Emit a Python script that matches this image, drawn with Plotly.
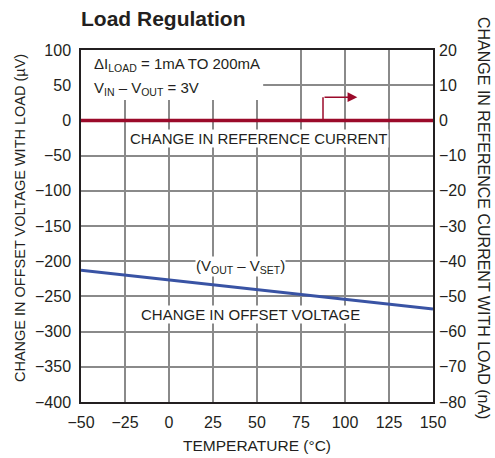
import plotly.graph_objects as go

# Data
temps = [-50, 150]
offset_uv = [-213, -268]          # change in offset voltage (µV), left axis
ref_na = [0, 0]                   # change in reference current (nA), right axis
x_ticks = [-50, -25, 0, 25, 50, 75, 100, 125, 150]
y_ticks = [100, 50, 0, -50, -100, -150, -200, -250, -300, -350, -400]
y2_ticks = [20, 10, 0, -10, -20, -30, -40, -50, -60, -70, -80]

def lab(v):
    return str(v).replace("-", "\u2212")

FONT = "Liberation Sans, Arial, sans-serif"
TXT = "#231f20"
RED = "#9b0a2a"
BLUE = "#3953a4"
GRID = "#8a8a8a"
FS = 15
TFS = 16

tickf = dict(size=TFS, family=FONT, color=TXT)
fig = go.Figure()
fig.add_trace(go.Scatter(x=temps, y=offset_uv, mode="lines",
                         line=dict(color=BLUE, width=3), yaxis="y", showlegend=False))
fig.add_trace(go.Scatter(x=temps, y=ref_na, mode="lines",
                         line=dict(color=RED, width=3.5), yaxis="y2", showlegend=False))

fig.update_layout(
    width=495, height=458,
    margin=dict(l=81, r=62, t=50, b=56),
    paper_bgcolor="white", plot_bgcolor="white",
    font=dict(family=FONT, color=TXT, size=FS),
    xaxis=dict(range=[-50, 150], tickvals=x_ticks, ticktext=[lab(v) for v in x_ticks],
               showgrid=True, gridcolor=GRID, gridwidth=1.5, zeroline=False,
               showline=True, linecolor="#231f20", linewidth=1.5, mirror=True,
               ticks="", tickfont=tickf, ticklabelstandoff=5),
    yaxis=dict(range=[-400, 100], tickvals=y_ticks, ticktext=[lab(v) for v in y_ticks],
               showgrid=True, gridcolor=GRID, gridwidth=1.5, zeroline=False,
               showline=True, linecolor="#231f20", linewidth=1.5, mirror=True,
               ticks="", tickfont=tickf, ticklabelstandoff=5),
    yaxis2=dict(range=[-80, 20], tickvals=y2_ticks, ticktext=[lab(v) for v in y2_ticks],
                overlaying="y", side="right", showgrid=False, zeroline=False,
                ticks="", tickfont=tickf, ticklabelstandoff=5),
)

# white box behind the conditions text (between grid and traces)
fig.add_shape(type="rect", xref="x", yref="y", x0=-50, x1=53.5, y0=29, y1=100,
              fillcolor="white", line=dict(width=0), layer="between")

# arrow pointing to right axis
fig.add_shape(type="line", xref="x", yref="y", x0=87.5, x1=87.5, y0=0, y1=33,
              line=dict(color=RED, width=1.5))
fig.add_annotation(x=107, y=33, ax=87.5, ay=33, xref="x", yref="y", axref="x", ayref="y",
                   showarrow=True, arrowhead=2, arrowsize=1.3, arrowwidth=1.5,
                   arrowcolor=RED, text="")

tf = dict(size=FS, family=FONT, color=TXT)
fig.add_annotation(text="<b>Load Regulation</b>", xref="paper", yref="paper",
                   x=-0.005, y=1.0, yshift=32, xanchor="left", yanchor="middle",
                   showarrow=False, font=dict(size=21, family=FONT, color=TXT))
fig.add_annotation(text="ΔI<sub>LOAD</sub> = 1mA TO 200mA", xref="x", yref="y",
                   x=-44, y=79, xanchor="left", yanchor="middle",
                   showarrow=False, font=tf)
fig.add_annotation(text="V<sub>IN</sub> – V<sub>OUT</sub> = 3V", xref="x", yref="y",
                   x=-44, y=46, xanchor="left", yanchor="middle",
                   showarrow=False, font=tf)
fig.add_annotation(text="CHANGE IN REFERENCE CURRENT", xref="x", yref="y",
                   x=51, y=-25, showarrow=False, bgcolor="white", borderpad=0, font=tf)
fig.add_annotation(text="(V<sub>OUT</sub> – V<sub>SET</sub>)", xref="x", yref="y",
                   x=40.5, y=-207, showarrow=False, bgcolor="white", borderpad=0, font=tf)
fig.add_annotation(text="CHANGE IN OFFSET VOLTAGE", xref="x", yref="y",
                   x=46.5, y=-275, showarrow=False, bgcolor="white", borderpad=0, font=tf)
# axis titles
fig.add_annotation(text="TEMPERATURE (°C)", xref="paper", yref="paper",
                   x=0.5, y=0, yshift=-43, xanchor="center", yanchor="middle",
                   showarrow=False, font=dict(size=15.5, family=FONT, color=TXT))
fig.add_annotation(text="CHANGE IN OFFSET VOLTAGE WITH LOAD (µV)", xref="paper", yref="paper",
                   x=0, xshift=-61, y=0.5, yshift=8, xanchor="center", yanchor="middle",
                   textangle=-90, showarrow=False, font=dict(size=14.5, family=FONT, color=TXT))
fig.add_annotation(text="CHANGE IN REFERENCE CURRENT WITH LOAD (nA)", xref="paper", yref="paper",
                   x=1, xshift=51, y=0.5, yshift=8, xanchor="center", yanchor="middle",
                   textangle=90, showarrow=False, font=dict(size=16, family=FONT, color=TXT))

fig.write_html("out.html", config={"displayModeBar": False},
               post_script="document.body.style.margin='0px';document.body.style.overflow='hidden';")
